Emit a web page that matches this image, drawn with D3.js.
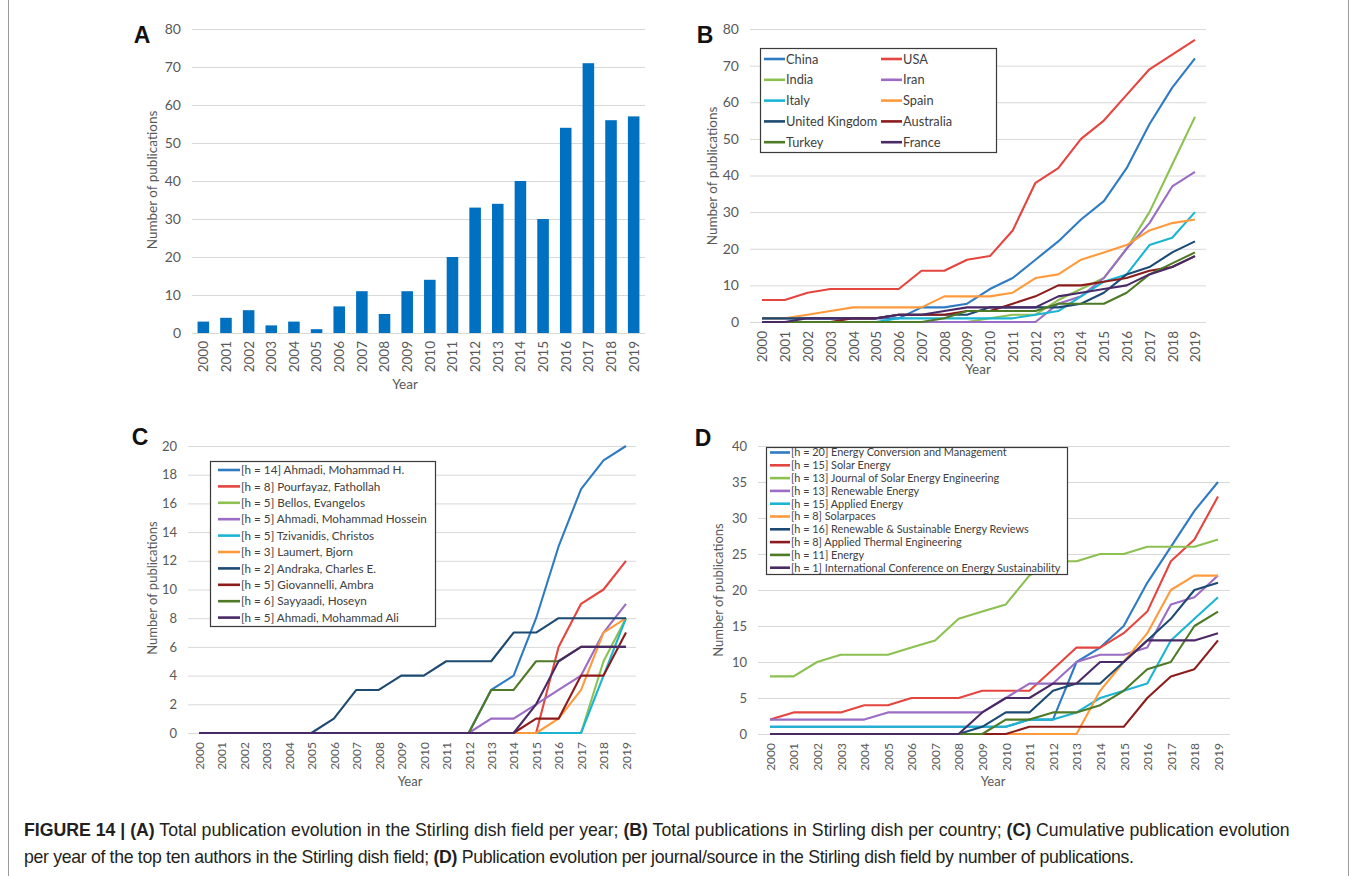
<!DOCTYPE html>
<html><head><meta charset="utf-8">
<script src="https://cdn.jsdelivr.net/npm/d3@7"></script>
<style>
html,body{margin:0;padding:0;background:#fff;}
svg{display:block;}
text{white-space:pre;}
</style></head>
<body>
<svg id="chart" width="1356" height="876"></svg>
<script>
// ---------- data ----------
const years = ["2000","2001","2002","2003","2004","2005","2006","2007","2008","2009",
               "2010","2011","2012","2013","2014","2015","2016","2017","2018","2019"];

// Panel A
const pubsPerYear = [3,4,6,2,3,1,7,11,5,11,14,20,33,34,40,30,54,71,56,57];
const ticksA = [0,10,20,30,40,50,60,70,80];

// Panel B (countries)
const countryNames = ["China","USA","India","Iran","Italy","Spain","United Kingdom","Australia","Turkey","France"];
const china     = [1,1,1,1,1,1,1,4,4,5,9,12,17,22,28,33,42,54,64,72];
const usa       = [6,6,8,9,9,9,9,14,14,17,18,25,38,42,50,55,62,69,73,77];
const india     = [0,0,0,0,0,0,0,0,0,0,1,2,2,6,9,12,20,30,43,56];
const iran      = [0,0,0,0,0,0,0,0,0,0,0,0,0,5,7,12,20,27,37,41];
const italy     = [0,0,0,0,0,0,1,1,1,1,1,1,2,3,7,11,13,21,23,30];
const spain     = [1,1,2,3,4,4,4,4,7,7,7,8,12,13,17,19,21,25,27,28];
const uk        = [1,1,1,1,1,1,2,2,2,2,4,4,4,4,5,8,13,15,19,22];
const australia = [0,0,0,0,1,1,2,2,2,3,3,5,7,10,10,11,12,14,15,18];
const turkey    = [0,0,0,0,0,0,0,0,1,3,3,3,3,5,5,5,8,13,16,19];
const france    = [0,0,1,1,1,1,2,2,3,4,4,4,4,7,8,9,10,13,15,18];
const ticksB = [0,10,20,30,40,50,60,70,80];

// Panel C (authors)
const authorNames = ["[h = 14] Ahmadi, Mohammad H.","[h = 8] Pourfayaz, Fathollah","[h = 5] Bellos, Evangelos",
  "[h = 5] Ahmadi, Mohammad Hossein","[h = 5] Tzivanidis, Christos","[h = 3] Laumert, Bjorn",
  "[h = 2] Andraka, Charles E.","[h = 5] Giovannelli, Ambra","[h = 6] Sayyaadi, Hoseyn","[h = 5] Ahmadi, Mohammad Ali"];
const ahmadiMH    = [0,0,0,0,0,0,0,0,0,0,0,0,0,3,4,8,13,17,19,20];
const pourfayaz   = [0,0,0,0,0,0,0,0,0,0,0,0,0,0,0,0,6,9,10,12];
const bellos      = [0,0,0,0,0,0,0,0,0,0,0,0,0,0,0,0,0,0,5,8];
const ahmadiMHos  = [0,0,0,0,0,0,0,0,0,0,0,0,0,1,1,2,3,4,7,9];
const tzivanidis  = [0,0,0,0,0,0,0,0,0,0,0,0,0,0,0,0,0,0,4,8];
const laumert     = [0,0,0,0,0,0,0,0,0,0,0,0,0,0,0,0,1,3,7,8];
const andraka     = [0,0,0,0,0,0,1,3,3,4,4,5,5,5,7,7,8,8,8,8];
const giovannelli = [0,0,0,0,0,0,0,0,0,0,0,0,0,0,0,1,1,4,4,7];
const sayyaadi    = [0,0,0,0,0,0,0,0,0,0,0,0,0,3,3,5,5,6,6,6];
const ahmadiMA    = [0,0,0,0,0,0,0,0,0,0,0,0,0,0,0,2,5,6,6,6];
const ticksC = [0,2,4,6,8,10,12,14,16,18,20];

// Panel D (journals)
const journalNames = ["[h = 20] Energy Conversion and Management","[h = 15] Solar Energy",
  "[h = 13] Journal of Solar Energy Engineering","[h = 13] Renewable Energy","[h = 15] Applied Energy",
  "[h = 8] Solarpaces","[h = 16] Renewable & Sustainable Energy Reviews","[h = 8] Applied Thermal Engineering",
  "[h = 11] Energy","[h = 1] International Conference on Energy Sustainability"];
const ecm    = [1,1,1,1,1,1,1,1,1,1,1,2,2,10,12,15,21,26,31,35];
const solarE = [2,3,3,3,4,4,5,5,5,6,6,6,9,12,12,14,17,24,27,33];
const jsee   = [8,8,10,11,11,11,12,13,16,17,18,22,24,24,25,25,26,26,26,27];
const renewE = [2,2,2,2,2,3,3,3,3,3,5,7,7,10,11,11,12,18,19,22];
const applE  = [1,1,1,1,1,1,1,1,1,1,1,2,2,3,5,6,7,13,16,19];
const solarp = [0,0,0,0,0,0,0,0,0,0,0,0,0,0,6,10,14,20,22,22];
const rser   = [0,0,0,0,0,0,0,0,0,1,3,3,6,7,7,10,13,16,20,21];
const ate    = [0,0,0,0,0,0,0,0,0,0,0,1,1,1,1,1,5,8,9,13];
const energy = [0,0,0,0,0,0,0,0,0,0,2,2,3,3,4,6,9,10,15,17];
const ices   = [0,0,0,0,0,0,0,0,0,3,5,5,7,7,10,10,13,13,13,14];
const ticksD = [0,5,10,15,20,25,30,35,40];

const palette = ["#2e7bc4","#e5453f","#8cc152","#9b6cc4","#1bb5d3","#ff9a3c","#1d4a73","#8c1c1c","#4e7a26","#4a2a66"];

// ---------- drawing ----------
const svg = d3.select("#chart");
const GRID = "#d9d9d9", TXT = "#595959", FONT = "Lato, 'Open Sans', sans-serif";

// figure frame
svg.append("line").attr("x1",8.5).attr("x2",8.5).attr("y1",0).attr("y2",876).attr("stroke","#9a9a9a");
svg.append("line").attr("x1",1348.5).attr("x2",1348.5).attr("y1",0).attr("y2",876).attr("stroke","#9a9a9a");

function yAxis(y, ticks, gx, fs) {
  const ax = d3.axisLeft(y).tickValues(ticks).tickSize(-(gx[1]-gx[0])).tickPadding(11).tickFormat(d3.format("d"));
  const g = svg.append("g").attr("transform",`translate(${gx[0]},0)`).call(ax);
  g.select(".domain").remove();
  g.selectAll(".tick line").attr("stroke",GRID).attr("stroke-width",1);
  g.selectAll(".tick text").attr("fill",TXT).style("font-family",FONT).style("font-size",fs+"px");
}
function xAxis(x, y0, fs, pad) {
  const ax = d3.axisBottom(x).tickSize(0);
  const g = svg.append("g").attr("transform",`translate(0,${y0})`).call(ax);
  g.select(".domain").remove();
  g.selectAll(".tick text").attr("fill",TXT).style("font-family",FONT).style("font-size",fs+"px")
    .attr("transform","rotate(-90)").attr("x",-pad).attr("y",0).attr("dy","0.36em").attr("text-anchor","end");
}
function titles(letter, lp, yt, xt, fs) {
  svg.append("text").attr("x",lp[0]).attr("y",lp[1]).attr("text-anchor","middle")
    .style("font-family","'Liberation Sans', Arial, sans-serif").style("font-weight","bold").style("font-size","23px")
    .attr("fill","#111").text(letter);
  svg.append("text").attr("transform",`translate(${yt[0]},${yt[1]}) rotate(-90)`).attr("text-anchor","middle")
    .attr("dy","0.35em").attr("fill",TXT).style("font-family",FONT).style("font-size",fs+"px").text("Number of publications");
  svg.append("text").attr("x",xt[0]).attr("y",xt[1]).attr("text-anchor","middle").attr("dy","0.35em")
    .attr("fill",TXT).style("font-family",FONT).style("font-size",fs+"px").text("Year");
}
function legend(names, box, cols, colX, row0, rowH, lineLen, fs) {
  svg.append("rect").attr("x",box[0]+0.5).attr("y",box[1]+0.5).attr("width",box[2]-box[0]).attr("height",box[3]-box[1])
    .attr("fill","#fff").attr("stroke","#3a3a3a").attr("stroke-width",1.2);
  const it = svg.append("g").selectAll("g").data(names).join("g")
    .attr("transform",(d,i)=>`translate(${colX[i%cols]},${row0 + Math.floor(i/cols)*rowH})`);
  it.append("line").attr("x1",0).attr("x2",lineLen).attr("stroke",(d,i)=>palette[i]).attr("stroke-width",2.6);
  it.append("text").attr("x",lineLen+1).attr("dy","0.36em").attr("fill","#404040")
    .style("font-family",FONT).style("font-size",fs+"px").text(d=>d);
}
function lines(x, y, series) {
  const line = d3.line().x((d,i)=>x(years[i])).y(d=>y(d));
  svg.append("g").selectAll("path").data(series).join("path")
    .attr("d",d=>line(d)).attr("fill","none").attr("stroke",(d,i)=>palette[i])
    .attr("stroke-width",2.1).attr("stroke-linejoin","round");
}

// ---- Panel A ----
{
  const gx = [192,645];
  const x = d3.scaleBand().domain(years).range(gx).paddingInner(0.49).paddingOuter(0.245);
  const y = d3.scaleLinear().domain([0,80]).range([333,29]);
  yAxis(y, ticksA, gx, 14);
  svg.append("g").selectAll("rect").data(pubsPerYear).join("rect")
    .attr("x",(d,i)=>x(years[i])).attr("width",x.bandwidth())
    .attr("y",d=>y(d)).attr("height",d=>y(0)-y(d)).attr("fill","#0070c0");
  xAxis(x, 333, 13.5, 8);
  titles("A",[142,43],[152,180],[405,384],13.5);
}
// ---- Panel B ----
{
  const gx = [750,1206];
  const x = d3.scalePoint().domain(years).range([762,1195]);
  const y = d3.scaleLinear().domain([0,80]).range([322,29]);
  yAxis(y, ticksB, gx, 14);
  xAxis(x, 322, 13.5, 9);
  lines(x, y, [china,usa,india,iran,italy,spain,uk,australia,turkey,france]);
  titles("B",[705,43],[712,176],[978,369],13.5);
  legend(countryNames,[760,48,996,152],2,[764,881],59,20.8,21,12.8);
}
// ---- Panel C ----
{
  const gx = [188,636];
  const x = d3.scalePoint().domain(years).range([199,626]);
  const y = d3.scaleLinear().domain([0,20]).range([733,446]);
  yAxis(y, ticksC, gx, 13);
  xAxis(x, 733, 12, 9);
  lines(x, y, [ahmadiMH,pourfayaz,bellos,ahmadiMHos,tzivanidis,laumert,andraka,giovannelli,sayyaadi,ahmadiMA]);
  titles("C",[140,445],[152,588],[410,781],13);
  legend(authorNames,[210,461,435,626],1,[218],470,16.4,22,11.7);
}
// ---- Panel D ----
{
  const gx = [758,1230];
  const x = d3.scalePoint().domain(years).range([770,1218]);
  const y = d3.scaleLinear().domain([0,40]).range([734,446]);
  yAxis(y, ticksD, gx, 13);
  xAxis(x, 734, 12, 9);
  lines(x, y, [ecm,solarE,jsee,renewE,applE,solarp,rser,ate,energy,ices]);
  titles("D",[703,446],[718,590],[993,781],13);
  legend(journalNames,[766,447,1067,574],1,[770],452.5,12.8,20,10.9);
}

// ---- Caption ----
const cap = svg.append("g").style("font-family","'Liberation Sans', Arial, Helvetica, sans-serif").attr("fill","#231f20");
const l1 = cap.append("text").attr("x",24).attr("y",836).style("font-size","16px");
[["FIGURE 14 | (A)",1],[" Total publication evolution in the Stirling dish field per year; ",0],["(B)",1],
 [" Total publications in Stirling dish per country; ",0],["(C)",1],[" Cumulative publication evolution",0]]
 .forEach(([t,b])=>l1.append("tspan").style("font-weight",b?"bold":"normal").text(t));
const l2 = cap.append("text").attr("x",24).attr("y",863).style("font-size","16px");
[["per year of the top ten authors in the Stirling dish field; ",0],["(D)",1],
 [" Publication evolution per journal/source in the Stirling dish field by number of publications.",0]]
 .forEach(([t,b])=>l2.append("tspan").style("font-weight",b?"bold":"normal").text(t));
const w1 = l1.node().getComputedTextLength();
const fs = 16*1266/w1;
l1.style("font-size",fs+"px"); l2.style("font-size",fs+"px");
l2.attr("textLength",1110).attr("lengthAdjust","spacing");
</script>
</body></html>
